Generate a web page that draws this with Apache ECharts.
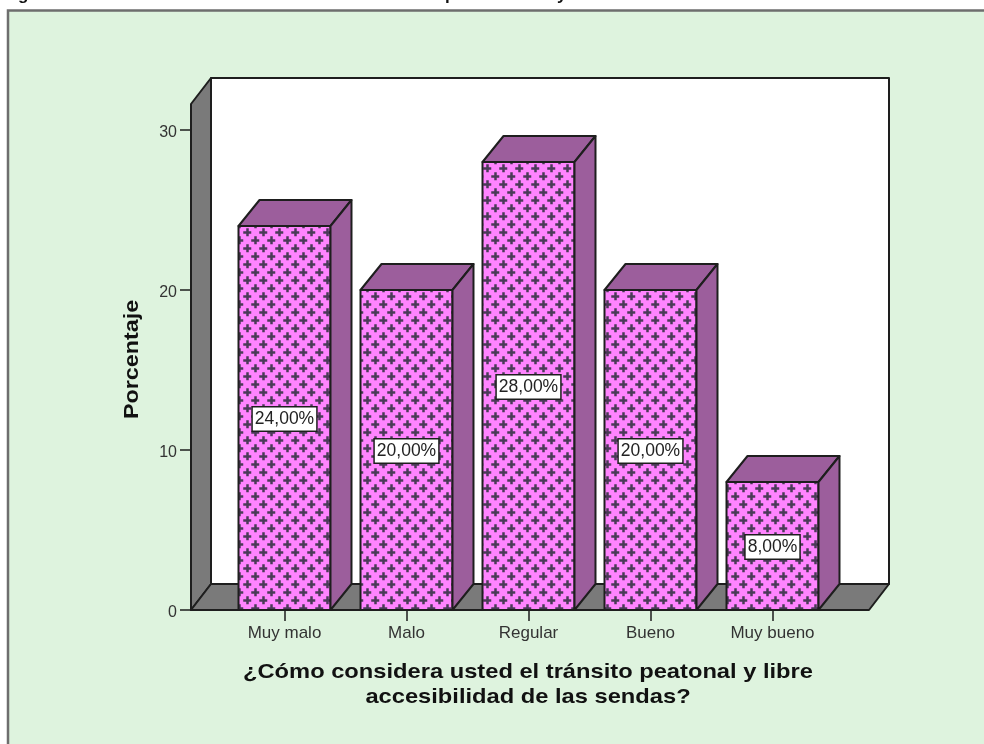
<!DOCTYPE html>
<html><head><meta charset="utf-8">
<style>html,body{margin:0;padding:0;background:#fff}#c{width:984px;height:744px}</style>
<script src="https://cdn.jsdelivr.net/npm/echarts@6/dist/echarts.min.js"></script>
</head><body><div id="c"></div>
<script>
const categories = ['Muy malo', 'Malo', 'Regular', 'Bueno', 'Muy bueno'];
const percentages = [24, 20, 28, 20, 8];
const yTicks = [0, 10, 20, 30];
const xTitle = '¿Cómo considera usted el tránsito peatonal y libre\naccesibilidad de las sendas?';
const yTitle = 'Porcentaje';

const FONT = '"Liberation Sans", Arial, sans-serif';
const INK = '#1e1e1e', PURPLE = '#9c5e9c', GREY = '#7a7a7a', PINK = '#ff84ff', CROSS = '#4b3a58';
const WALL_DX = 20, WALL_DY = 26, BAR_DX = 21, BAR_DY = 26, FLOOR_OUT = 32.5;

function crossTile() {
  const s = 16, c = document.createElement('canvas');
  c.width = s; c.height = s;
  const g = c.getContext('2d');
  g.fillStyle = PINK; g.fillRect(0, 0, s, s);
  g.fillStyle = CROSS;
  [[7, 8], [15, 0], [-1, 0], [15, 16], [-1, 16]].forEach(([x, y]) => {
    g.fillRect(x - 3.75, y - 0.75, 8, 2.5);
    g.fillRect(x - 0.75, y - 3.75, 2.5, 8);
  });
  return c;
}
const crossFill = { image: crossTile(), repeat: 'repeat' };

function poly(points, fill) {
  return { type: 'polygon', shape: { points }, style: { fill, stroke: INK, lineWidth: 2, lineJoin: 'round' } };
}

function renderShell(params, api) {
  const cs = params.coordSys;
  const bottom = cs.y + cs.height, top = cs.y;
  const left = cs.x - FLOOR_OUT, right = cs.x + cs.width + 35.5;
  return { type: 'group', children: [
    poly([[left + WALL_DX, top - WALL_DY], [right + WALL_DX, top - WALL_DY], [right + WALL_DX, bottom - WALL_DY], [left + WALL_DX, bottom - WALL_DY]], '#ffffff'),
    poly([[left, top], [left + WALL_DX, top - WALL_DY], [left + WALL_DX, bottom - WALL_DY], [left, bottom]], GREY),
    poly([[left, bottom], [left + WALL_DX, bottom - WALL_DY], [right + WALL_DX, bottom - WALL_DY], [right, bottom]], GREY)
  ]};
}

function renderBar(params, api) {
  const idx = api.value(0), val = api.value(1);
  const c = api.coord([idx, val]), base = api.coord([idx, 0]), mid = api.coord([idx, val / 2]);
  const w = api.size([1, 0])[0] * 0.754;
  const l = c[0] - w / 2, r = c[0] + w / 2, t = c[1], b = base[1];
  return { type: 'group', children: [
    poly([[l, b], [l, t], [r, t], [r, b]], crossFill),
    poly([[l, t], [l + BAR_DX, t - BAR_DY], [r + BAR_DX, t - BAR_DY], [r, t]], PURPLE),
    poly([[r, t], [r + BAR_DX, t - BAR_DY], [r + BAR_DX, b - BAR_DY], [r, b]], PURPLE),
    { type: 'text', z2: 10, style: {
        x: mid[0], y: mid[1] + 1, align: 'center', verticalAlign: 'middle',
        text: val.toFixed(2).replace('.', ',') + '%',
        font: '17.5px ' + FONT, fill: '#222',
        backgroundColor: '#fff', borderColor: INK, borderWidth: 1.5, padding: [2, 2, 3, 2]
    } }
  ]};
}

const chart = echarts.init(document.getElementById('c'), null, { renderer: 'canvas' });
chart.setOption({
  animation: false,
  backgroundColor: '#ffffff',
  graphic: { elements: [
    { type: 'rect', z: -1, shape: { x: 8, y: 10.5, width: 1000, height: 800 },
      style: { fill: '#def3de', stroke: '#6e6e6e', lineWidth: 2.5 } },
    { type: 'text', z: 0, style: { x: 3, y: -13, text: 'Figura', font: 'bold 17px ' + FONT, fill: '#111' } },
    { type: 'text', z: 0, style: { x: 445, y: -13, text: 'p', font: 'bold 17px ' + FONT, fill: '#111' } },
    { type: 'text', z: 0, style: { x: 557, y: -13, text: 'y', font: 'bold 17px ' + FONT, fill: '#111' } },
    { type: 'text', z: 5, x: 528, y: 684.5, scaleX: 1.128,
      style: { text: xTitle, align: 'center', verticalAlign: 'middle', font: 'bold 21px ' + FONT, lineHeight: 25, fill: '#111' } },
    { type: 'text', z: 5, x: 132, y: 359.5, rotation: Math.PI / 2, scaleX: 1.11,
      style: { text: yTitle, align: 'center', verticalAlign: 'middle', font: 'bold 21px ' + FONT, fill: '#111' } }
  ]},
  grid: { left: 223.5, width: 610, top: 104, height: 506, containLabel: false },
  xAxis: {
    type: 'category', data: categories,
    axisLine: { show: false },
    axisTick: { show: true, alignWithLabel: true, length: 11, lineStyle: { color: INK, width: 1.5 } },
    axisLabel: { margin: 15, fontFamily: FONT, fontSize: 17, color: '#333', interval: 0 }
  },
  yAxis: {
    type: 'value', min: 0, max: 31.625, offset: FLOOR_OUT,
    axisLine: { show: false },
    splitLine: { show: false },
    axisTick: { show: true, length: 11, lineStyle: { color: INK, width: 1.5 }, customValues: yTicks },
    axisLabel: { margin: 14, verticalAlign: 'top', lineHeight: 6, fontFamily: FONT, fontSize: 16, color: '#333', customValues: yTicks }
  },
  series: [
    { type: 'custom', name: 'marco', z: 1, silent: true, clip: false, renderItem: renderShell, data: [[0, 0]] },
    { type: 'custom', name: 'Porcentaje', z: 3, clip: false, renderItem: renderBar,
      encode: { x: 0, y: 1 }, data: percentages.map((v, i) => [i, v]) }
  ]
});
</script></body></html>
